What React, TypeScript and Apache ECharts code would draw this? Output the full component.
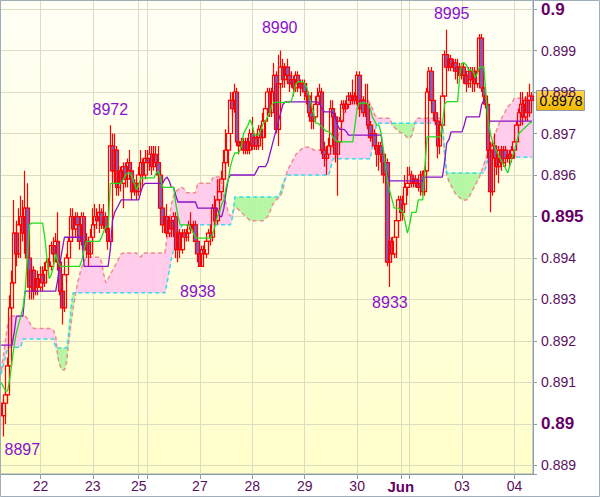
import React, { useEffect, useRef } from "react";
import * as echarts from "echarts";

// ---- price data, in pips (8978 = 0.8978), hourly bars ----
const OPEN = [
  8905,8902,8905,8907,8914,8928,8934,8946,8941,8948,
  8950,8946,8952,8940,8933,8937,8932,8935,8933,8936,
  8934,8937,8939,8938,8943,8941,8944,8939,8932,8928,
  8936,8940,8944,8950,8947,8950,8948,8944,8950,8942,
  8944,8941,8945,8948,8950,8949,8951,8948,8950,8947,
  8944,8967,8961,8966,8957,8961,8958,8962,8959,8963,
  8961,8956,8958,8956,8960,8963,8960,8964,8963,8965,
  8962,8965,8963,8960,8952,8948,8950,8946,8949,8947,
  8950,8942,8946,8942,8946,8945,8946,8948,8947,8948,
  8944,8941,8938,8942,8941,8944,8946,8945,8952,8949,
  8954,8956,8959,8963,8966,8970,8978,8976,8980,8968,
  8967,8968,8966,8968,8966,8970,8967,8969,8967,8971,
  8969,8973,8976,8980,8975,8980,8984,8971,8982,8986,
  8983,8986,8984,8982,8983,8981,8984,8982,8981,8982,
  8980,8979,8975,8973,8974,8977,8979,8980,8966,8964,
  8965,8967,8976,8974,8965,8968,8973,8977,8976,8977,
  8979,8978,8979,8978,8984,8976,8978,8975,8977,8972,
  8969,8970,8967,8965,8967,8965,8960,8963,8939,8944,
  8941,8945,8949,8954,8951,8953,8957,8958,8960,8958,
  8959,8958,8957,8960,8956,8961,8980,8985,8978,8975,
  8973,8967,8972,8979,8989,8986,8988,8986,8987,8985,
  8986,8984,8986,8984,8982,8985,8983,8985,8982,8985,
  8993,8981,8979,8977,8966,8956,8967,8964,8962,8966,
  8963,8966,8964,8965,8964,8966,8968,8972,8975,8977,
  8974,8978,8975,8979,
];
const CLOSE = [
  8902,8905,8907,8914,8928,8934,8946,8941,8948,8950,
  8946,8952,8940,8933,8937,8932,8935,8933,8936,8934,
  8937,8939,8938,8943,8941,8944,8939,8932,8928,8936,
  8940,8944,8950,8947,8950,8948,8944,8950,8942,8944,
  8941,8945,8948,8950,8949,8951,8948,8950,8947,8944,
  8967,8961,8966,8957,8961,8958,8962,8959,8963,8961,
  8956,8958,8956,8960,8963,8960,8964,8963,8965,8962,
  8965,8963,8960,8952,8948,8950,8946,8949,8947,8950,
  8942,8946,8942,8946,8945,8946,8948,8947,8948,8944,
  8941,8938,8942,8941,8944,8946,8945,8952,8949,8954,
  8956,8959,8963,8966,8970,8978,8976,8980,8968,8967,
  8968,8966,8968,8966,8970,8967,8969,8967,8971,8969,
  8973,8976,8980,8975,8980,8984,8971,8982,8986,8983,
  8986,8984,8982,8983,8981,8984,8982,8981,8982,8980,
  8979,8975,8973,8974,8977,8979,8980,8966,8964,8965,
  8967,8976,8974,8965,8968,8973,8977,8976,8977,8979,
  8978,8979,8978,8984,8976,8978,8975,8977,8972,8969,
  8970,8967,8965,8967,8965,8960,8963,8939,8944,8941,
  8945,8949,8954,8951,8953,8957,8958,8960,8958,8959,
  8958,8957,8960,8956,8961,8980,8985,8978,8975,8973,
  8967,8972,8979,8989,8986,8988,8986,8987,8985,8986,
  8984,8986,8984,8982,8985,8983,8985,8982,8985,8993,
  8981,8979,8977,8966,8956,8967,8964,8962,8966,8963,
  8966,8964,8965,8964,8966,8968,8972,8975,8977,8974,
  8978,8975,8979,8978,
];
const HIGH = [
  8906,8906,8908,8916,8931,8937,8954,8949,8952,8955,
  8954,8961,8958,8943,8939,8938,8937,8937,8938,8938,
  8939,8940,8940,8944,8945,8946,8951,8940,8934,8937,
  8941,8945,8952,8952,8951,8951,8949,8951,8951,8946,
  8945,8947,8952,8953,8952,8953,8952,8953,8951,8949,
  8972,8970,8970,8967,8962,8962,8963,8963,8964,8966,
  8962,8959,8959,8962,8966,8964,8966,8966,8967,8967,
  8967,8967,8967,8961,8954,8951,8953,8950,8950,8951,
  8951,8947,8947,8947,8947,8947,8949,8951,8949,8949,
  8946,8942,8943,8943,8945,8947,8948,8953,8955,8959,
  8959,8961,8966,8971,8972,8980,8980,8982,8981,8970,
  8969,8969,8969,8969,8971,8974,8970,8970,8972,8972,
  8975,8977,8981,8981,8981,8987,8985,8989,8990,8988,
  8987,8988,8985,8985,8984,8985,8985,8983,8983,8983,
  8982,8980,8980,8976,8979,8981,8982,8981,8968,8967,
  8969,8978,8978,8975,8970,8974,8978,8978,8978,8980,
  8980,8983,8980,8985,8985,8979,8979,8982,8982,8973,
  8972,8971,8968,8968,8968,8966,8964,8964,8945,8945,
  8946,8951,8955,8955,8955,8960,8962,8962,8961,8960,
  8960,8959,8961,8961,8962,8981,8986,8986,8981,8976,
  8975,8973,8980,8990,8995,8989,8989,8988,8988,8988,
  8987,8987,8987,8985,8986,8986,8986,8986,8986,8994,
  8994,8982,8980,8978,8968,8968,8970,8965,8967,8967,
  8967,8967,8966,8966,8967,8969,8973,8976,8980,8980,
  8979,8980,8982,8980,
];
const LOW = [
  8899,8897,8900,8905,8908,8920,8933,8938,8940,8940,
  8944,8941,8938,8930,8930,8930,8931,8931,8932,8932,
  8933,8934,8936,8937,8939,8939,8937,8931,8924,8927,
  8934,8937,8942,8944,8945,8946,8942,8943,8940,8940,
  8938,8940,8944,8946,8947,8946,8947,8947,8946,8942,
  8943,8959,8958,8955,8955,8956,8952,8957,8957,8960,
  8954,8955,8954,8955,8956,8957,8959,8961,8961,8960,
  8961,8962,8959,8950,8946,8946,8945,8945,8945,8945,
  8940,8939,8940,8941,8944,8944,8944,8946,8946,8943,
  8939,8938,8938,8940,8940,8942,8943,8944,8947,8948,
  8953,8955,8957,8959,8962,8966,8974,8975,8967,8965,
  8966,8965,8965,8965,8965,8966,8966,8966,8966,8967,
  8966,8969,8974,8974,8974,8979,8970,8967,8981,8981,
  8981,8982,8980,8981,8979,8980,8980,8979,8980,8978,
  8977,8974,8971,8971,8973,8975,8977,8965,8962,8960,
  8964,8966,8972,8963,8955,8967,8972,8975,8975,8976,
  8977,8977,8977,8977,8974,8975,8974,8974,8971,8968,
  8967,8966,8962,8961,8963,8958,8959,8938,8933,8939,
  8940,8940,8945,8950,8949,8952,8955,8957,8957,8957,
  8957,8956,8955,8955,8955,8958,8978,8977,8973,8972,
  8964,8965,8971,8978,8985,8985,8985,8985,8983,8982,
  8983,8983,8982,8980,8981,8981,8980,8980,8981,8984,
  8980,8977,8976,8964,8951,8955,8962,8960,8958,8961,
  8962,8962,8963,8962,8963,8964,8967,8970,8972,8972,
  8973,8973,8974,8976,
];

// ---- Ichimoku lines, read per bar (pips) ----
const TENKAN = [
  8910,8909,8908,8908,8911,8915,8919,8922,8924,8926,
  8928,8932,8940,8948,8948.4,8948.4,8948.4,8948.4,8948.4,8948.4,
  8945,8940,8935,8936,8938,8941,8939,8938,8938,8938,
  8938,8938,8938,8938,8938,8938,8938,8939.5,8942,8944,
  8944,8944,8944,8944,8944,8944,8945,8946.5,8947.5,8947.5,
  8958,8958,8958,8958,8958,8958,8959,8960,8960.5,8960.5,
  8959.5,8958,8956.5,8957.5,8959.3,8959.3,8959.3,8959.3,8959.3,8959.3,
  8959.3,8960.5,8961,8959,8957,8957,8957,8957,8957,8957,
  8953,8950,8948,8948,8948,8948,8948,8947,8946,8945,
  8944.8,8944.8,8944.8,8944.8,8944.8,8944.8,8944.8,8946,8948,8950,
  8951,8953,8954,8957,8959,8962,8964,8965.3,8965.3,8965.5,
  8967,8970,8971,8972,8973.3,8972,8969.6,8969.6,8969.6,8971,
  8972.5,8973,8974,8975,8977,8977.5,8977.5,8977.5,8977.5,8977.5,
  8977.5,8977.5,8977.5,8978,8980,8982,8982.5,8982.5,8982.5,8982,
  8981,8979,8977,8975,8972.5,8972.5,8972,8971.5,8971,8970.5,
  8970.5,8970,8969,8968.5,8968,8968,8968,8968,8968,8968,
  8968,8968,8972,8976,8977.3,8977.3,8977.3,8977.3,8977,8976,
  8974,8973,8972,8972,8970,8966,8962,8958,8956,8954,
  8952,8952,8952,8951.5,8951,8948.5,8946,8948,8951,8951,
  8951,8954,8954,8954,8962,8969.2,8969.2,8969.2,8969.2,8969.2,
  8969.2,8969.2,8972,8977,8977.7,8977.7,8977.7,8977.7,8977.7,8977.7,
  8984,8987,8987,8986.5,8985.3,8985.3,8985,8983.5,8984.5,8986,
  8986,8986,8979,8973,8970,8968,8966.7,8965.5,8964.5,8963.5,
  8962.5,8961.5,8960.5,8962.5,8964.3,8966,8968,8970,8970.5,8971,
  8971.5,8972,8972.5,8972.8,
];
const KIJUN = [
  8919,8919,8919,8919,8919,8919,8922,8926,8926,8926,
  8926,8932,8932,8932,8932,8932,8932,8932,8932,8932,
  8932,8932,8932,8932,8932,8932,8935,8939,8942,8945,
  8945,8945,8945,8945,8945,8945,8945,8945,8938,8938,
  8938,8938,8938,8938,8938,8938,8938,8938,8938,8938,
  8942,8949,8951,8952,8953,8954,8954,8954,8954,8954,
  8954,8954,8954,8954,8956,8957.5,8958,8958,8958,8958,
  8958,8958,8958,8958,8958,8959,8959.5,8958.5,8957,8957,
  8955,8953.5,8953.5,8953.5,8953.5,8953.5,8953.5,8953.5,8953.5,8953.5,
  8952,8952,8952,8952,8952,8952,8952,8952,8952,8952,
  8950,8950,8952,8956,8959,8960,8960,8960,8960,8960,
  8960,8960,8960,8960,8960,8960,8960,8961,8962,8962,
  8962,8962,8963,8965,8967,8969,8971,8973,8975,8977,
  8977.6,8977.6,8977.6,8977.6,8977.6,8977.6,8977.6,8977.6,8977.6,8977.6,
  8977.6,8977.6,8977.6,8977.6,8977.6,8977.6,8977,8976,8975.2,8975.2,
  8975.2,8975.2,8975,8974,8972,8971,8971,8971,8970.5,8969.6,
  8969.6,8969.6,8969.6,8969.6,8969.6,8969.6,8969.6,8969.6,8969.6,8969.6,
  8969.6,8969.6,8969.6,8969.6,8969.6,8965,8962,8960,8958.6,8958.6,
  8958.6,8958.6,8958.6,8958.6,8958.6,8958.6,8958.6,8958.6,8958.6,8958.6,
  8958.6,8958.6,8958.6,8958.6,8959.5,8959.5,8959.5,8959.5,8959.5,8959.5,
  8959.5,8959.5,8959.5,8963,8967.7,8968.5,8970.4,8970.4,8970.4,8970.4,
  8970.4,8970.4,8972,8974,8974,8974,8974,8974,8974,8974,
  8977,8978,8978,8973,8973,8973,8973,8973,8973,8973,
  8973,8973,8973,8973,8973,8973,8973,8973,8973,8973,
  8973,8973,8973,8973,
];
const SENKOU_A = [
  8913,8916,8920,8924,8926,8926,8926,8926,8926,8926,
  8926,8926,8925.5,8924.5,8923.5,8923,8923,8923,8923,8923,
  8923,8923,8923,8923,8922.5,8921,8916,8914,8913,8913,
  8915,8920,8924,8928,8931,8934,8936,8938,8939,8940.2,
  8940.2,8940.2,8940.2,8940.2,8940.2,8940.2,8939,8936,8934,8935,
  8936,8937,8938,8939,8940,8941,8941.2,8941.2,8941.2,8941.2,
  8941.2,8941.2,8941.2,8940.5,8940.2,8941.2,8941.2,8941.2,8941.2,8941.2,
  8941.2,8941.2,8941.2,8941.2,8941.2,8941.2,8945,8949,8953,8955,
  8956,8956.4,8957,8957,8956.5,8955.7,8955.7,8955.7,8955.7,8955.7,
  8958,8958,8958,8958,8958,8958,8958,8959.5,8959.5,8959.5,
  8959.5,8958,8955,8953,8951,8950,8951,8952,8952,8951.5,
  8951,8950.5,8950,8949.5,8949,8949,8949,8949,8949,8949,
  8949,8949.5,8950,8951,8952.5,8953.5,8954,8954.5,8955,8956.5,
  8959,8961,8962,8963,8964,8965,8965.5,8966,8966.5,8966.7,
  8966.7,8966.7,8966.5,8966,8966,8966,8966,8966,8966.2,8966.7,
  8966.7,8966.7,8966.7,8967.5,8969,8970.5,8972.5,8975,8976.5,8977.5,
  8978,8978,8978,8978,8978,8978,8978,8978,8978,8977,
  8976,8974.5,8974,8973.7,8973.7,8973.7,8973.7,8973.7,8973.7,8972,
  8971.5,8971,8970.5,8970.2,8970,8969.5,8969,8968.8,8969.5,8971.5,
  8973.5,8973.7,8973.7,8973.7,8973.7,8973.7,8973.7,8973.7,8973.7,8973.7,
  8973.7,8973.7,8972.5,8965,8960,8958.5,8957.5,8956.5,8955.5,8955,
  8954.5,8954,8954,8954,8954.5,8955.5,8956.5,8957.5,8958.5,8959.5,
  8961,8962.5,8964,8965.5,8966.5,8968,8969.5,8971,8972.5,8973.5,
  8974.5,8975.5,8976.5,8977,8977.5,8978.5,8978.5,8978.5,8978.5,8978.5,
  8978.5,8978.5,8978.5,8978.5,
];
const SENKOU_B = [
  8912,8914,8916,8918.5,8918.5,8918.5,8918.5,8918.5,8918.5,8918.5,
  8920.5,8920.5,8920.5,8920.5,8920.5,8920.5,8920.5,8920.5,8920.5,8920.5,
  8920.5,8920.5,8920.5,8920.5,8920.5,8918.3,8918.3,8918.3,8918.3,8918.3,
  8918.3,8922,8928,8931.6,8931.6,8931.6,8931.6,8931.6,8931.6,8931.6,
  8931.6,8931.6,8931.6,8931.6,8931.6,8931.6,8931.6,8931.6,8931.6,8931.6,
  8931.6,8931.6,8931.6,8931.6,8931.6,8931.6,8931.6,8931.6,8931.6,8931.6,
  8931.6,8931.6,8931.6,8931.6,8931.6,8931.6,8931.6,8931.6,8931.6,8931.6,
  8931.6,8931.6,8931.6,8931.6,8931.6,8931.6,8934,8937,8940,8942,
  8944,8946,8947,8948,8948,8948,8948,8948,8948,8948,
  8948,8948,8948,8948,8948,8948,8948,8948,8948,8948,
  8948,8948,8948,8948,8948,8948,8950,8954.7,8954.7,8954.7,
  8954.7,8954.7,8954.7,8954.7,8954.7,8954.7,8954.7,8954.7,8954.7,8954.7,
  8954.7,8954.7,8954.7,8954.7,8954.7,8954.7,8954.7,8954.7,8956,8958,
  8959,8960,8960,8960,8960,8960,8960,8960,8960,8960,
  8960,8960,8960,8960,8960,8960,8960,8960,8960,8960,
  8960,8962,8963.9,8963.9,8963.9,8963.9,8963.9,8963.9,8963.9,8963.9,
  8963.9,8963.9,8963.9,8963.9,8963.9,8963.9,8963.9,8963.9,8963.9,8963.9,
  8967,8970,8972.5,8972.5,8972.5,8972.5,8972.5,8972.5,8972.5,8972.5,
  8972.5,8972.5,8972.5,8972.5,8972.5,8972.5,8972.5,8972.5,8972.5,8972.5,
  8972.5,8972.5,8972.5,8972.5,8972.5,8972.5,8972.5,8972.5,8972.5,8972.5,
  8972.5,8972.5,8972.5,8966,8960.5,8960.5,8960.5,8960.5,8960.5,8960.5,
  8960.5,8960.5,8960.5,8960.5,8960.5,8960.5,8960.5,8960.5,8960.5,8960.5,
  8960.5,8960.5,8962,8964.3,8964.3,8964.3,8964.3,8964.3,8964.3,8964.3,
  8964.3,8964.3,8964.3,8964.3,8964.3,8964.3,8964.3,8964.3,8964.3,8964.3,
  8964.3,8964.3,8964.3,8964.3,
];

// day boundaries: [bar index, label]
const DAY_TICKS: [number, string][] = [
  [18, "22"], [42, "23"], [63, "25"], [67, ""], [91, "27"], [115, "28"],
  [139, "29"], [163, "30"], [183, "Jun"], [187, ""], [211, "03"], [235, "04"],
];
// high / low annotations: [bar index, price in pips]
const EXTREMES: [number, number][] = [
  [128, 8990], [50, 8972], [204, 8995], [91, 8938], [178, 8933], [1, 8897],
];

const Y_MIN = 0.888795;
const Y_MAX = 0.900217;

const FONT = '"Liberation Sans", Arial, sans-serif';
const PINK = "#ffccec";
const GREEN = "#b6f7a4";

export default function App() {
  const ref = useRef<HTMLDivElement>(null);
  useEffect(() => {
    document.body.style.margin = "0";
    if (!ref.current) return;
    const chart = echarts.init(ref.current, undefined, { renderer: "svg" });
    const N = CLOSE.length;
    const cats = CLOSE.map((_, i) => String(i));
    const labelAt: Record<number, string> = {};
    DAY_TICKS.forEach(([i, l]) => (labelAt[i] = l));
    const isDay = (i: number) => labelAt[i] !== undefined;
    const p = (v: number) => v / 10000;
    const last = p(CLOSE[N - 1]);

    const candles = OPEN.map((o, i) => {
      const c = CLOSE[i];
      return [p(o), p(c), p(Math.min(LOW[i], o, c)), p(Math.max(HIGH[i], o, c))];
    });

    const extremeStyle: Record<number, { dist: number; dx: number }> = {
      128: { dist: 15, dx: -1 },
      50: { dist: 7, dx: 0 },
      204: { dist: 8, dx: 5 },
      91: { dist: 17, dx: -2 },
      178: { dist: 7, dx: 0 },
      1: { dist: 5, dx: 19 },
    };
    const markData = EXTREMES.map(([i, v]) => {
      const isHigh = v >= HIGH[i];
      const st = extremeStyle[i] || { dist: 6, dx: 0 };
      return {
        name: String(v),
        coord: [i, p(v)],
        label: { position: isHigh ? "top" : "bottom", distance: st.dist, offset: [st.dx, 0] },
      };
    });

    const cloudIdx = CLOSE.map((_, i) => [i]);
    const frame = {
      type: "rect", silent: true, z: 100,
      shape: { x: 0.5, y: 0.5, width: 599, height: 496 },
      style: { fill: "none", stroke: "#9fadb9", lineWidth: 1 },
    };

    const option: any = {
      animation: false,
      backgroundColor: "#ffffff",
      grid: {
        left: 0, right: 67, top: 0, bottom: 23, show: true,
        backgroundColor: new echarts.graphic.LinearGradient(0, 0, 0, 1, [
          { offset: 0, color: "#fffff6" },
          { offset: 1, color: "#ffffca" },
        ]),
        borderColor: "#97a6b3", borderWidth: 1,
      },
      xAxis: {
        type: "category", data: cats, boundaryGap: true,
        axisLine: { lineStyle: { color: "#8d9dab" } },
        axisTick: { show: true, alignWithLabel: true, interval: (i: number) => isDay(i), length: 5, lineStyle: { color: "#8d9dab" } },
        axisLabel: {
          interval: (i: number) => !!labelAt[i],
          formatter: (_v: string, i: number) => {
            const l = labelAt[i];
            if (!l) return "";
            return l === "Jun" ? "{b|Jun}" : l;
          },
          margin: 5, color: "#5a1060", fontSize: 14, fontFamily: FONT,
          rich: { b: { fontSize: 15, fontWeight: "bold", color: "#660066", fontFamily: FONT } },
        },
        splitLine: { show: true, alignWithLabel: true, interval: (i: number) => isDay(i), lineStyle: { color: "#dcdcc2", width: 1 } },
      },
      yAxis: {
        type: "value", position: "right", min: Y_MIN, max: Y_MAX, scale: true,
        splitNumber: 11, minInterval: 0.001, maxInterval: 0.001,
        axisLine: { show: true, lineStyle: { color: "#8d9dab" } },
        axisTick: { show: true, length: 4, lineStyle: { color: "#8d9dab" } },
        axisLabel: {
          margin: 8,
          formatter: (v: number) => {
            const k = Math.round(v * 1000);
            if (Math.abs(v * 1000 - k) > 1e-6) return "";
            const s = String(k / 1000);
            return k % 5 === 0 ? `{b|${s}}` : `{n|${s}}`;
          },
          rich: {
            n: { fontSize: 14, color: "#5a1060", fontFamily: FONT },
            b: { fontSize: 17, fontWeight: "bold", color: "#660066", fontFamily: FONT },
          },
        },
        splitLine: { show: true, lineStyle: { color: "#dcdcc2", width: 1 } },
      },
      series: [
        {
          type: "custom", name: "cloud", data: cloudIdx, encode: { x: 0, y: 0 }, silent: true, z: 1,
          renderItem: (_params: any, api: any) => {
            const i = api.value(0);
            if (i >= N - 1) return null;
            const a0 = p(SENKOU_A[i]), a1 = p(SENKOU_A[i + 1]);
            const b0 = p(SENKOU_B[i]), b1 = p(SENKOU_B[i + 1]);
            const pa0 = api.coord([i, a0]), pa1 = api.coord([i + 1, a1]);
            const pb0 = api.coord([i, b0]), pb1 = api.coord([i + 1, b1]);
            const d0 = a0 - b0, d1 = a1 - b1;
            const col = (d: number) => (d >= 0 ? PINK : GREEN);
            if (d0 * d1 >= 0) {
              const c = col(d0 + d1);
              return { type: "polygon", shape: { points: [pa0, pa1, pb1, pb0] }, style: { fill: c, stroke: c, lineWidth: 0.6 } };
            }
            const t = d0 / (d0 - d1);
            const cx = pa0[0] + t * (pa1[0] - pa0[0]);
            const cy = pa0[1] + t * (pa1[1] - pa0[1]);
            return {
              type: "group",
              children: [
                { type: "polygon", shape: { points: [pa0, [cx, cy], pb0] }, style: { fill: col(d0), stroke: col(d0), lineWidth: 0.6 } },
                { type: "polygon", shape: { points: [[cx, cy], pa1, pb1] }, style: { fill: col(d1), stroke: col(d1), lineWidth: 0.6 } },
              ],
            };
          },
        },
        {
          type: "line", name: "Senkou A", data: SENKOU_A.map(p), symbol: "none", silent: true, z: 2,
          lineStyle: { color: "#f08c8c", width: 1.5, type: [4, 3] },
        },
        {
          type: "line", name: "Senkou B", data: SENKOU_B.map(p), symbol: "none", silent: true, z: 2,
          lineStyle: { color: "#36dcee", width: 1.5, type: [4, 3] },
        },
        {
          type: "candlestick", name: "EURGBP", data: candles, barWidth: 4, z: 3,
          itemStyle: { color: "rgba(255,255,255,0)", color0: "#7f5fbf", borderColor: "#ff0000", borderColor0: "#ff0000", borderWidth: 1.2 },
          markPoint: {
            silent: true, symbol: "circle", symbolSize: 1, itemStyle: { color: "rgba(0,0,0,0)" },
            label: { show: true, formatter: (d: any) => d.name, color: "#8a10d0", fontSize: 16, fontFamily: FONT },
            data: markData,
          },
        },
        {
          type: "line", name: "Kijun", data: KIJUN.map(p), symbol: "none", silent: true, z: 4,
          lineStyle: { color: "#8a12c4", width: 1.3 },
        },
        {
          type: "line", name: "Tenkan", data: TENKAN.map(p), symbol: "none", silent: true, z: 4,
          lineStyle: { color: "#1ede1e", width: 1.3 },
        },
      ],
      graphic: [frame],
    };
    chart.setOption(option);

    // current-price tag, placed through the y axis scale
    const yPix = chart.convertToPixel({ yAxisIndex: 0 }, last) as number;
    chart.setOption({
      graphic: [
        frame,
        {
          type: "group", x: 536, y: Math.round(yPix) - 10, z: 50, silent: true,
          children: [
            {
              type: "rect", shape: { x: 0.5, y: 0.5, width: 48, height: 20 },
              style: {
                fill: new echarts.graphic.LinearGradient(0, 0, 0, 1, [
                  { offset: 0, color: "#ffd84a" },
                  { offset: 1, color: "#f2b600" },
                ]),
                stroke: "#8a9aaa", lineWidth: 1,
              },
            },
            {
              type: "text", x: 25, y: 11,
              style: { text: last.toFixed(4), fill: "#000000", font: `14px ${FONT}`, align: "center", verticalAlign: "middle" },
            },
          ],
        },
      ],
    });
    return () => chart.dispose();
  }, []);
  return <div ref={ref} style={{ width: 600, height: 497 }} />;
}
